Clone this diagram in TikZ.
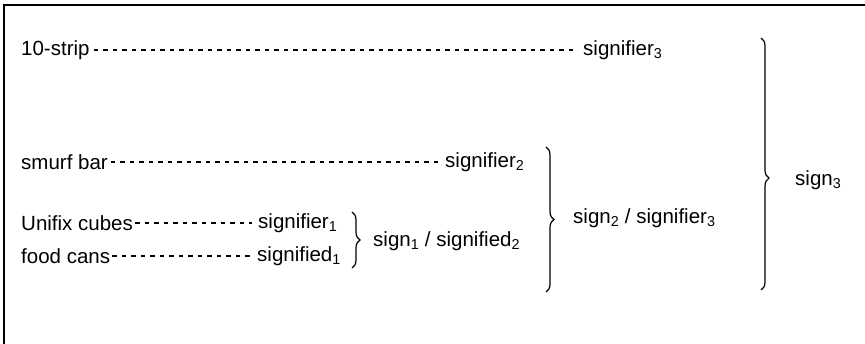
\documentclass[tikz,border=0pt]{standalone}
\usepackage{fontspec}
\setmainfont{Liberation Sans}
\usetikzlibrary{decorations.pathreplacing}
\begin{document}
\begin{tikzpicture}[x=1pt,y=-1pt,
  lbl/.style={anchor=west,inner sep=0pt,font=\fontsize{20.5}{24}\selectfont},
  link/.style={line width=2pt,dash pattern=on 4.5pt off 5pt},
  curly/.style={decorate,line width=1.2pt,decoration={brace,amplitude=8pt}}]
\useasboundingbox (0,0) rectangle (865,344);
% frame (top and left edges)
\draw[line width=1.2pt] (4,344) -- (4,5) -- (865,5);

% objects and their roles
\node[lbl] (strip) at (21,50) {10-strip};
\node[lbl] (sr3) at (583,50) {signifier\textsubscript{3}};
\node[lbl] (smurf) at (21,162) {smurf bar};
\node[lbl] (sr2) at (445,162) {signifier\textsubscript{2}};
\node[lbl] (unifix) at (21,223) {Unifix cubes};
\node[lbl] (sr1) at (258,223) {signifier\textsubscript{1}};
\node[lbl] (cans) at (21,256) {food cans};
\node[lbl] (sd1) at (257,256) {signified\textsubscript{1}};

% dashed links
\draw[link] (strip.east) ++(4,0) -- ([xshift=-7pt]sr3.west);
\draw[link] (smurf.east) ++(3,0) -- ([xshift=-3pt]sr2.west);
\draw[link] (unifix.east) ++(2,0) -- ([xshift=-6pt]sr1.west);
\draw[link] (cans.east) ++(2,0) -- ([xshift=-7pt]sd1.west);

% braces and the signs they form
\coordinate (b1t) at (352,212);
\coordinate (b1b) at (352,268);
\draw[curly] (b1t) -- (b1b);
\node[lbl] (s1) at (373,241) {sign\textsubscript{1} / signified\textsubscript{2}};

\coordinate (b2t) at (546,147);
\coordinate (b2b) at (546,292);
\draw[curly] (b2t) -- (b2b);
\node[lbl] (s2) at (573,218) {sign\textsubscript{2} / signifier\textsubscript{3}};

\coordinate (b3t) at (761,38);
\coordinate (b3b) at (761,290);
\draw[decorate,line width=1.2pt,decoration={brace,amplitude=8pt,aspect=0.556}] (b3t) -- (b3b);
\node[lbl] (s3) at (795,180) {sign\textsubscript{3}};
\end{tikzpicture}
\end{document}
